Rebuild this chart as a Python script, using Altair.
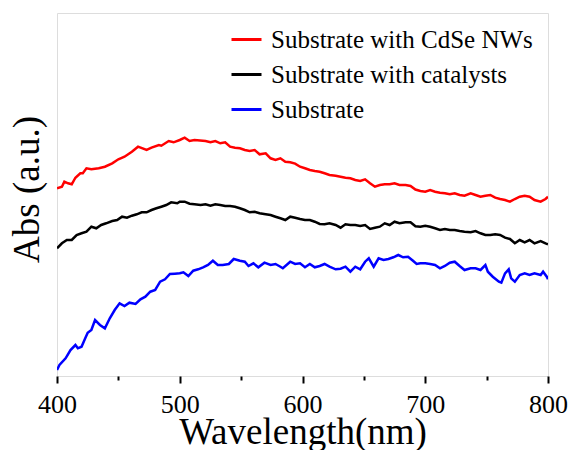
import altair as alt
import pandas as pd

series_names = ["Substrate with CdSe NWs", "Substrate with catalysts", "Substrate"]
series_colors = ["#ff0000", "#000000", "#0000ff"]

red_wl = [400, 404, 406, 409, 412, 415, 419, 421, 424, 428, 434, 439, 445, 450, 455, 461, 466, 473, 477, 483,
          485, 491, 495, 500, 504, 508, 512, 521, 525, 529, 533, 537, 541, 545, 549, 553, 557, 561, 565, 570,
          574, 578, 582, 586, 590, 594, 598, 602, 606, 610, 614, 618, 622, 627, 631, 635, 639, 643, 647, 651,
          655, 659, 663, 667, 671, 675, 679, 684, 688, 692, 696, 700, 704, 708, 712, 716, 720, 724, 728, 732,
          737, 741, 745, 749, 753, 757, 761, 765, 769, 773, 777, 781, 785, 789, 794, 798, 800]
red_abs = [187.7, 189.3, 194.3, 192.7, 191.7, 198.3, 202.7, 202.7, 207.7, 206.7, 207.7, 209.3, 212.7, 216.7, 219.3,
           224.3, 229.3, 226.0, 228.3, 231.0, 230.3, 235.0, 233.7, 236.0, 238.3, 235.0, 236.0, 235.0, 233.7, 235.0,
           232.7, 233.7, 229.3, 228.3, 227.7, 226.0, 225.0, 226.0, 221.7, 222.7, 217.7, 216.0, 217.7, 214.3, 213.7,
           212.4, 209.3, 207.7, 206.0, 205.0, 204.3, 202.7, 201.0, 200.3, 199.3, 198.3, 197.7, 196.0, 195.0, 196.7,
           192.7, 189.3, 191.0, 191.7, 191.7, 192.7, 191.0, 191.0, 190.0, 186.5, 185.0, 184.3, 186.0, 184.3, 183.3,
           182.7, 181.7, 182.7, 181.0, 180.3, 182.7, 181.0, 179.3, 180.3, 181.0, 178.3, 177.0, 176.0, 174.3, 177.0,
           179.3, 180.3, 179.3, 176.0, 174.3, 177.0, 179.3]

black_wl = [400, 404, 408, 412, 416, 420, 424, 428, 432, 436, 440, 445, 449, 453, 457, 461, 465, 469, 473, 477,
            481, 485, 489, 493, 498, 500, 504, 508, 512, 517, 521, 525, 529, 533, 537, 541, 545, 549, 553, 557,
            561, 565, 570, 574, 578, 582, 586, 590, 594, 598, 602, 606, 610, 614, 618, 622, 627, 631, 635, 639,
            643, 647, 651, 655, 659, 663, 667, 671, 675, 679, 684, 688, 692, 696, 700, 704, 708, 712, 716, 720,
            724, 728, 732, 737, 741, 745, 749, 753, 757, 761, 765, 769, 773, 777, 781, 785, 789, 794, 798, 800]
black_abs = [127.7, 132.7, 136.0, 136.0, 141.0, 142.7, 144.3, 149.3, 147.7, 151.0, 152.7, 155.0, 156.0, 159.3, 158.3,
             160.3, 161.7, 163.7, 163.7, 166.0, 167.7, 169.3, 171.0, 173.7, 172.7, 174.3, 174.3, 172.3, 171.7, 171.0,
             171.7, 170.3, 171.7, 171.0, 170.0, 170.0, 169.3, 167.7, 166.0, 163.7, 164.3, 162.7, 161.7, 161.0, 159.3,
             157.7, 156.0, 159.3, 158.3, 157.0, 156.0, 156.0, 154.3, 152.0, 151.7, 152.7, 151.0, 148.3, 151.7, 151.0,
             151.0, 150.0, 151.0, 147.0, 148.3, 149.3, 152.7, 151.0, 154.3, 152.7, 153.7, 153.7, 149.7, 149.3, 150.3,
             149.3, 147.7, 146.0, 147.0, 146.0, 146.0, 145.0, 144.3, 143.7, 145.0, 142.7, 141.0, 141.0, 141.7, 141.0,
             138.3, 137.0, 132.7, 136.0, 133.7, 136.0, 132.7, 135.0, 132.7, 131.7]

blue_wl = [400, 402, 407, 411, 415, 417, 420, 423, 425, 428, 431, 435, 439, 443, 447, 451, 455, 459, 464, 468,
           472, 476, 480, 484, 488, 492, 496, 500, 503, 507, 511, 515, 519, 523, 527, 531, 535, 540, 544, 549,
           553, 556, 560, 564, 569, 574, 578, 582, 584, 590, 594, 598, 602, 606, 610, 614, 618, 622, 627, 631,
           635, 639, 643, 647, 651, 654, 658, 662, 666, 670, 674, 678, 682, 686, 690, 693, 696, 700, 704, 708,
           712, 716, 720, 724, 728, 732, 737, 741, 745, 749, 751, 755, 760, 762, 765, 768, 770, 773, 777, 781,
           785, 789, 794, 796, 799, 800]
blue_abs = [6.0, 11.0, 17.7, 26.0, 31.0, 27.7, 29.3, 37.7, 43.3, 46.0, 56.0, 51.0, 47.7, 57.7, 66.0, 72.7, 70.0, 73.3,
            72.0, 76.7, 79.3, 84.3, 86.0, 94.3, 96.7, 102.0, 102.3, 102.7, 103.7, 100.0, 105.3, 106.7, 108.7, 111.0,
            115.3, 111.0, 111.0, 112.0, 117.0, 115.3, 114.3, 110.0, 112.7, 108.7, 113.3, 111.0, 112.0, 109.3, 107.7,
            114.3, 112.0, 112.7, 108.7, 112.0, 108.7, 110.0, 112.0, 109.3, 106.7, 107.3, 109.3, 104.3, 109.3, 106.7,
            114.3, 117.7, 109.3, 117.7, 116.0, 117.0, 118.7, 121.0, 118.7, 119.3, 115.3, 112.0, 112.7, 112.7, 112.0,
            111.0, 107.7, 110.0, 113.3, 114.3, 110.0, 106.0, 107.7, 107.7, 106.0, 111.0, 104.3, 99.3, 94.3, 93.3,
            102.7, 106.7, 97.7, 94.3, 101.0, 102.7, 101.0, 102.7, 101.0, 104.3, 99.3, 96.7]

x_ticks = [400, 450, 500, 550, 600, 650, 700, 750, 800]

rows = []
for name, wl, ab in [(series_names[0], red_wl, red_abs),
                     (series_names[1], black_wl, black_abs),
                     (series_names[2], blue_wl, blue_abs)]:
    for w, a in zip(wl, ab):
        rows.append({"Wavelength": w, "Abs": a, "Sample": name})
df = pd.DataFrame(rows)

FONT = "Liberation Serif"

chart = alt.Chart(df).mark_line(strokeWidth=2.5, clip=True).encode(
    x=alt.X("Wavelength:Q",
            scale=alt.Scale(domain=[400, 800], nice=False, zero=False),
            axis=alt.Axis(values=x_ticks, title="Wavelength(nm)",
                          labelExpr="datum.value % 100 == 0 ? datum.label : ''",
                          tickSize={"condition": {"test": "datum.value % 100 != 0", "value": 4}, "value": 7},
                          tickWidth=2, tickColor="black", domain=False, grid=False,
                          labelFont=FONT, labelFontSize=26, labelColor="black",
                          labelBaseline="alphabetic", labelPadding=29,
                          labelOverlap=False, labelFlush=False, labelBound=False,
                          titleFont=FONT, titleFontSize=37, titleFontWeight="normal",
                          titleColor="black", titleBaseline="alphabetic", titleY=67)),
    y=alt.Y("Abs:Q",
            scale=alt.Scale(domain=[0, 363], nice=False, zero=False),
            axis=alt.Axis(title="Abs (a.u.)", labels=False, ticks=False, domain=False, grid=False,
                          titleFont=FONT, titleFontSize=37, titleFontWeight="normal",
                          titleColor="black", titleBaseline="middle", titleX=-30, titleY=176)),
    color=alt.Color("Sample:N",
                    scale=alt.Scale(domain=series_names, range=series_colors),
                    sort=series_names,
                    legend=alt.Legend(title=None, orient="none", legendX=173, legendY=10,
                                      symbolType="stroke", symbolSize=900, symbolStrokeWidth=3,
                                      labelFont=FONT, labelFontSize=25, labelColor="black",
                                      labelOffset=8, rowPadding=5, padding=0, labelLimit=400)),
).properties(
    width=491, height=363,
    autosize=alt.AutoSizeParams(type="none"),
    padding={"left": 57, "top": 13, "right": 26, "bottom": 74},
).configure_view(
    stroke="black", strokeWidth=2
).configure(background="white")

chart.save("out.html", embed_options={"renderer": "svg", "actions": False})
